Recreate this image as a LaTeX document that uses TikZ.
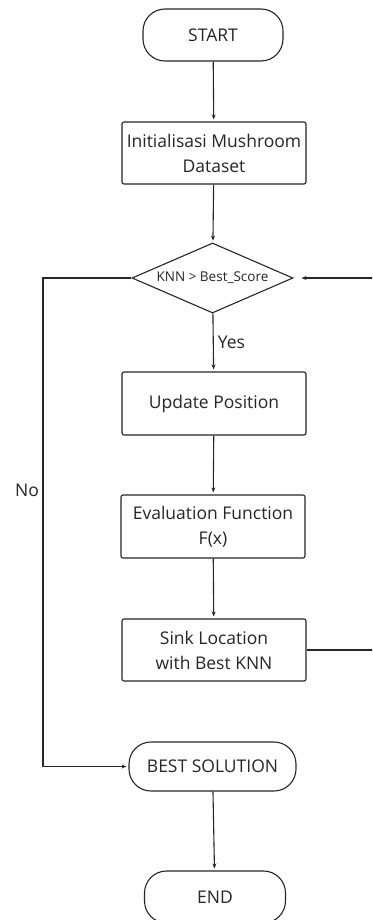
\documentclass[tikz,border=0pt]{standalone}
\usepackage{fontspec}
\setmainfont{Open Sans}
\usetikzlibrary{shapes.geometric,arrows.meta}
\begin{document}
\begin{tikzpicture}[x=1pt,y=-1pt,
  line/.style={draw=black!85,line width=1.1pt,text=black!85},
  arr/.style={line,-{Stealth[length=5pt,width=4pt]},shorten >=2pt},
  terminal/.style={line,rounded corners=22pt,inner sep=0pt,align=center,font=\fontsize{17.5}{19}\selectfont},
  process/.style={line,rounded corners=2pt,inner sep=0pt,align=center,minimum width=184pt,font=\fontsize{17.5}{25}\selectfont},
  decision/.style={line,diamond,aspect=2.3,inner sep=0pt,minimum width=161pt,minimum height=70pt,font=\fontsize{13.5}{15}\selectfont},
  lbl/.style={inner sep=0pt,text=black!85,font=\fontsize{17.5}{19}\selectfont}]
\useasboundingbox (0,0) rectangle (372,920);
\clip (0,0) rectangle (372,920);
\fill[white] (0,0) rectangle (372,920);

% nodes
\node[terminal,minimum width=140pt,minimum height=52pt] (start) at (213,35) {START};
\node[process,minimum height=62pt] (init) at (214,153) {Initialisasi Mushroom\\Dataset};
\node[decision] (dec) at (212.5,278) {KNN > Best\_Score};
\node[process,minimum height=63pt] (upd) at (214,403.5) {Update Position};
\node[process,minimum height=63pt] (eval) at (213,526.5) {Evaluation Function\\F(x)};
\node[process,minimum height=62pt] (sink) at (214,650) {Sink Location\\with Best KNN};
\node[terminal,minimum width=167pt,minimum height=49pt] (best) at (212.5,766.5) {BEST SOLUTION};
\node[terminal,minimum width=141pt,minimum height=52pt] (end) at (215,897) {END};

% helper points for the loop lines
\coordinate (nocorner) at (43,278);
\coordinate (fbbot) at (380,650);
\coordinate (fbtop) at (380,278);

% connectors
\draw[arr] (start) -- (init);
\draw[arr] (init) -- (dec);
\draw[arr] (dec) -- (upd) node[lbl,pos=0.5,anchor=west,xshift=4pt] {Yes};
\draw[arr] (upd) -- (eval);
\draw[arr] (eval) -- (sink);
\draw[arr] (best) -- (end);
\draw[arr] (dec.west) -- (nocorner) |- (best.west);
\node[lbl] (no) at (27,490) {No};
\draw[arr,shorten >=8pt] (sink.east) -- (fbbot) -- (fbtop) -- (dec.east);
\end{tikzpicture}
\end{document}
